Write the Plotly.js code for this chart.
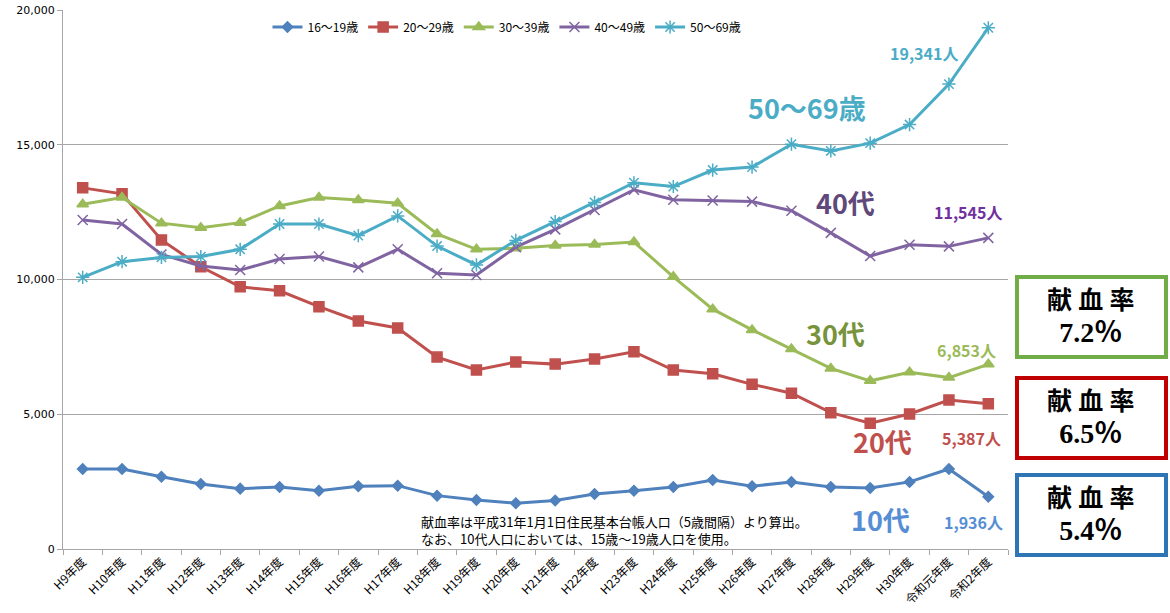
<!DOCTYPE html>
<html>
<head>
<meta charset="utf-8">
<script src="https://cdn.plot.ly/plotly-3.0.1.min.js"></script>
<style>
html,body{margin:0;padding:0;background:#fff;}
#chart{width:1170px;height:613px;}
</style>
</head>
<body>
<div id="chart"></div>
<script>
const years = ["H9年度","H10年度","H11年度","H12年度","H13年度","H14年度","H15年度","H16年度","H17年度","H18年度","H19年度","H20年度","H21年度","H22年度","H23年度","H24年度","H25年度","H26年度","H27年度","H28年度","H29年度","H30年度","令和元年度","令和2年度"];

const seriesNames = ["16～19歳","20～29歳","30～39歳","40～49歳","50～69歳"];

const age16_19 = [2970,2970,2680,2410,2240,2300,2160,2330,2350,1980,1820,1700,1800,2040,2160,2300,2560,2330,2490,2300,2260,2490,2970,1936];
const age20_29 = [13400,13180,11470,10470,9730,9580,8990,8460,8200,7120,6640,6940,6860,7050,7320,6640,6500,6110,5780,5060,4670,5010,5530,5387];
const age30_39 = [12790,13040,12090,11920,12110,12730,13040,12950,12830,11690,11120,11160,11260,11300,11390,10100,8900,8130,7420,6700,6240,6560,6360,6853];
const age40_49 = [12210,12060,10930,10500,10350,10760,10850,10450,11120,10230,10170,11200,11860,12580,13330,12960,12930,12890,12550,11730,10870,11290,11230,11545];
const age50_69 = [10080,10660,10820,10850,11120,12060,12060,11630,12360,11240,10540,11450,12150,12860,13590,13450,14060,14170,15020,14770,15060,15750,17250,19341];

const seriesData = [age16_19, age20_29, age30_39, age40_49, age50_69];
const colors = ["#4F81BD","#C0504D","#9BBB59","#8064A2","#4BACC6"];
const symbols = ["diamond","square","triangle-up","x-thin-open","asterisk-open"];
const msizes = [8,10,10,10,11];

const groupLabels = ["10代","20代","30代","40代","50～69歳"];
const rateLabels = ["5.4％","6.5％","7.2％"];

const traces = seriesData.map((d,i)=>({
  type:"scatter", mode:"lines+markers", name: seriesNames[i],
  x: years, y: d,
  line:{color:colors[i], width:3},
  marker:{symbol:symbols[i], size:msizes[i], color:colors[i], line:{color:colors[i], width:1.5}}
}));

const L=63, R=1008, T=10, B=549;
const px = x => (x-L)/(R-L);
const py = y => (B-y)/(B-T);
const font = "'Noto Sans CJK JP', 'Noto Sans', sans-serif";
const fmt = v => v.toLocaleString("en-US");

const ann = [];
function addText(text, x, y, size, color, weight){
  ann.push({text:text, xref:"paper", yref:"paper", x:px(x), y:py(y), showarrow:false,
    xanchor:"center", yanchor:"middle", font:{family:font, size:size, color:color, weight:weight||"bold"}});
}
addText(fmt(age50_69[23])+"人", 924, 53, 16, "#4BACC6");
addText(groupLabels[4], 807, 107, 27, "#4BACC6");
addText(groupLabels[3], 845, 202, 27, "#5F497A");
addText(fmt(age40_49[23])+"人", 968, 212, 16, "#7030A0");
addText(groupLabels[2], 835, 333, 27, "#77933C");
addText(fmt(age30_39[23])+"人", 966, 350, 16, "#9BBB59");
addText(groupLabels[1], 882, 441, 27, "#C0504D");
addText(fmt(age20_29[23])+"人", 971, 438, 16, "#C0504D");
addText(groupLabels[0], 880, 519, 27, "#558ED5");
addText(fmt(age16_19[23])+"人", 973, 522, 16, "#558ED5");

ann.push({text:"献血率は平成31年1月1日住民基本台帳人口（5歳間隔）より算出。<br>なお、10代人口においては、15歳～19歳人口を使用。",
  xref:"paper", yref:"paper", x:px(419), y:py(510), xanchor:"left", yanchor:"top", align:"left",
  showarrow:false, font:{family:font, size:13, color:"#000"}});

const boxes = [
  {y0:277, y1:357, color:"#70AD47", rate:rateLabels[2]},
  {y0:378, y1:458, color:"#C00000", rate:rateLabels[1]},
  {y0:475, y1:555, color:"#2E75B6", rate:rateLabels[0]}
];
const shapes = [];
boxes.forEach(b=>{
  shapes.push({type:"rect", xref:"paper", yref:"paper", x0:px(1017), x1:px(1166), y0:py(b.y1), y1:py(b.y0),
    line:{color:b.color, width:4}, fillcolor:"#fff"});
  ann.push({text:"献 血 率<br><span style='font-size:28px'>"+b.rate+"</span>", xref:"paper", yref:"paper", x:px(1091), y:py((b.y0+b.y1)/2),
    showarrow:false, xanchor:"center", yanchor:"middle", align:"center",
    font:{family:"'Liberation Serif', 'Noto Sans CJK JP', serif", size:25, color:"#000", weight:"bold"}});
});

const layout = {
  width:1170, height:613,
  margin:{l:L, r:1170-R, t:T, b:613-B},
  paper_bgcolor:"#fff", plot_bgcolor:"#fff",
  font:{family:font, size:11, color:"#000"},
  showlegend:true,
  legend:{orientation:"h", x:px(507), xanchor:"center", y:py(27), yanchor:"middle",
    font:{family:font, size:12, color:"#000"}, bgcolor:"rgba(0,0,0,0)"},
  xaxis:{type:"category", range:[-0.5,23.5], showgrid:false, zeroline:false,
    showline:true, linecolor:"#A6A6A6", linewidth:1, ticks:"outside", ticklen:5, tickcolor:"#A6A6A6",
    tickson:"boundaries", tickangle:-45, tickfont:{family:font, size:12, color:"#000"}},
  yaxis:{range:[0,20000], dtick:5000, tickformat:",d", showgrid:true, gridcolor:"#A6A6A6", gridwidth:1,
    zeroline:false, showline:true, linecolor:"#A6A6A6", linewidth:1, ticks:"outside", ticklen:5, tickcolor:"#A6A6A6",
    tickfont:{family:"'DejaVu Sans', sans-serif", size:11, color:"#000"}},
  annotations:ann, shapes:shapes
};

Plotly.newPlot("chart", traces, layout, {displayModeBar:false, staticPlot:true});
</script>
</body>
</html>
